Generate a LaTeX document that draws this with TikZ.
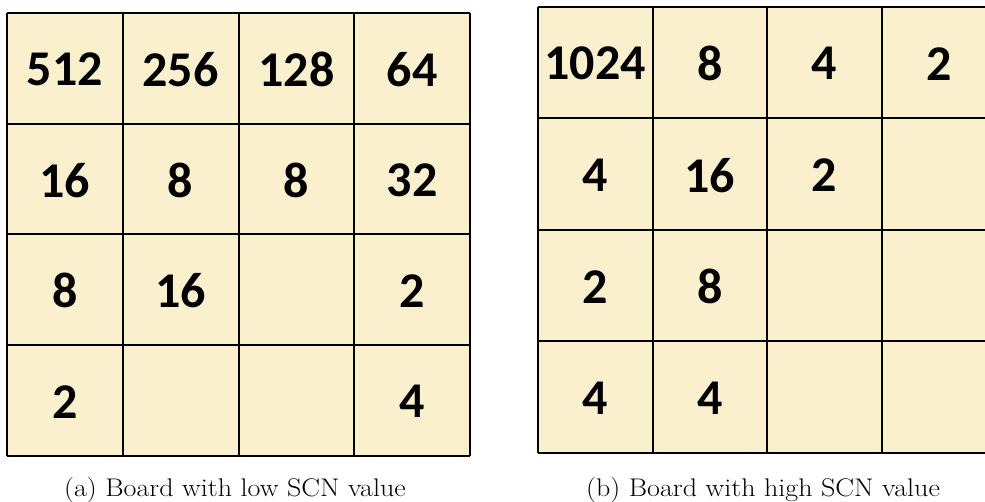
\documentclass[tikz,border=0pt]{standalone}
\usepackage{fontspec}
\newfontfamily\tilefont{Carlito}
\definecolor{tilefill}{HTML}{FBF0CE}
\begin{document}
\begin{tikzpicture}[x=1pt,y=-1pt,
  tile/.style={inner sep=0pt,font=\tilefont\bfseries\fontsize{50}{50}\selectfont},
  gridline/.style={draw=black,line width=2pt},
  capt/.style={anchor=base,xscale=1.1,font=\fontsize{25.5}{25.5}\selectfont}]
\useasboundingbox (0,0) rectangle (985,502);
% left board
\def\lw{115.75}\def\lh{110.75}
\fill[tilefill] (7,13) rectangle (470,456);
\foreach \i in {0,...,4}{
  \draw[gridline] ({7+\lw*\i},13) -- ({7+\lw*\i},456);
  \draw[gridline] (7,{13+\lh*\i}) -- (470,{13+\lh*\i});
}
\foreach \r/\row in {0/{512,256,128,64},1/{16,8,8,32},2/{8,16,,2},3/{2,,,4}}{
  \foreach \v [count=\c from 0] in \row {
    \node[tile] (L\r\c) at ({7+\lw*(\c+0.5)},{14+\lh*(\r+0.5)}) {\v};
  }
}
% right board
\def\rw{114.5}\def\rh{111.5}
\fill[tilefill] (538,7) rectangle (985,453);
\foreach \i in {0,...,3}{
  \draw[gridline] ({538+\rw*\i},7) -- ({538+\rw*\i},453);
}
\foreach \i in {0,...,4}{
  \draw[gridline] (538,{7+\rh*\i}) -- (985,{7+\rh*\i});
}
\foreach \r/\row in {0/{1024,8,4,2},1/{4,16,2,},2/{2,8,,},3/{4,4,,}}{
  \foreach \v [count=\c from 0] in \row {
    \node[tile] (R\r\c) at ({538+\rw*(\c+0.5)},{8+\rh*(\r+0.5)}) {\v};
  }
}
\node[capt] (ca) at (235,496) {(a) Board with low SCN value};
\node[capt] (cb) at (763,496) {(b) Board with high SCN value};
\end{tikzpicture}
\end{document}
